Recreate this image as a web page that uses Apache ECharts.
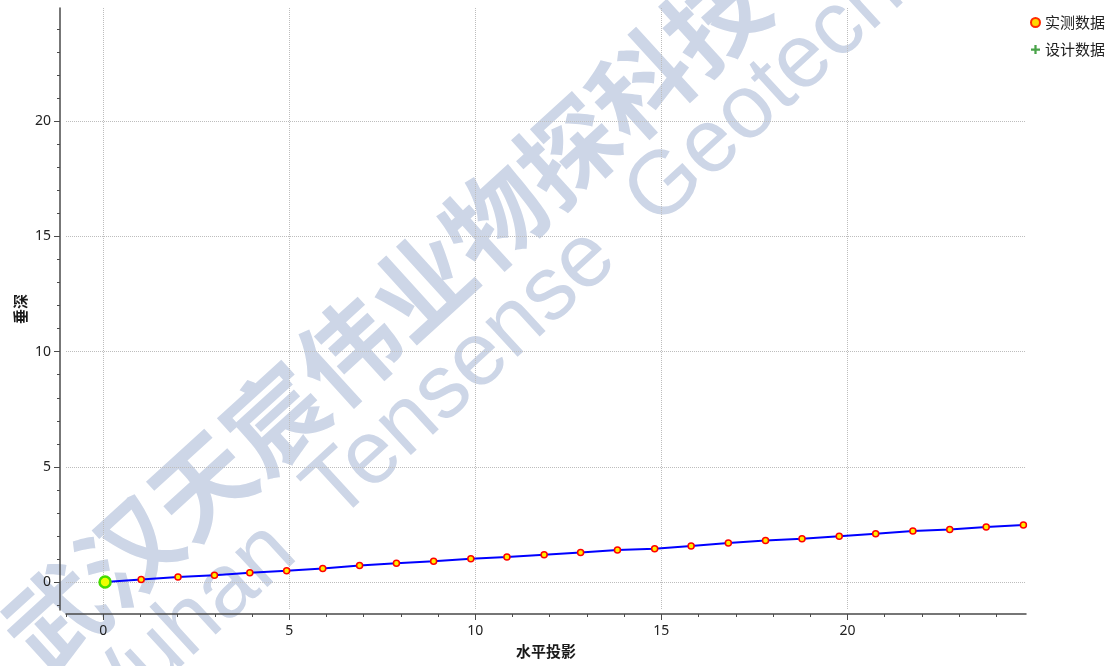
<!DOCTYPE html>
<html><head><meta charset="utf-8">
<script src="https://cdn.jsdelivr.net/npm/echarts@6/dist/echarts.min.js"></script>
<style>html,body{margin:0;padding:0;background:#fff}#c{width:1118px;height:666px}</style>
</head><body><div id="c"></div>
<script>
// ---- data ----
const measuredX = [1.02, 2.01, 2.99, 3.94, 4.93, 5.90, 6.89, 7.88, 8.88, 9.88, 10.85, 11.85, 12.83, 13.82, 14.82, 15.80, 16.80, 17.80, 18.78, 19.78, 20.76, 21.76, 22.75, 23.73, 24.73];
const measuredY = [0.12, 0.23, 0.31, 0.42, 0.50, 0.60, 0.73, 0.83, 0.91, 1.02, 1.10, 1.20, 1.29, 1.40, 1.46, 1.58, 1.70, 1.81, 1.89, 2.00, 2.11, 2.22, 2.29, 2.40, 2.48];
const startX = [0.05];
const startY = [0.01];
const designX = [];
const designY = [];
const xTickLabels = [0, 5, 10, 15, 20];
const yTickLabels = [0, 5, 10, 15, 20];
const xMinorTicks = [-1, 0, 1, 2, 3, 4, 5, 6, 7, 8, 9, 10, 11, 12, 13, 14, 15, 16, 17, 18, 19, 20, 21, 22, 23, 24];
const yMinorTicks = [-1, 0, 1, 2, 3, 4, 5, 6, 7, 8, 9, 10, 11, 12, 13, 14, 15, 16, 17, 18, 19, 20, 21, 22, 23, 24];
const seriesNames = ['实测数据', '设计数据'];
const axisNames = ['水平投影', '垂深'];
const watermarkCN = '武汉天宸伟业物探科技';
const watermarkEN = 'Wuhan  Tensense  Geotech';

const zip = (xs, ys) => xs.map((x, i) => [x, ys[i]]);
const measured = zip(measuredX, measuredY);
const start = zip(startX, startY);
const design = zip(designX, designY);
const path = start.concat(measured);

const axisColor = '#4a4a4a';
const labelFont = 'Noto Sans';
const cjk = 'Noto Sans CJK SC';
const deg = Math.PI / 180;
const xOff = 4, yOff = 6;

function mainAxis(min, max, labels, name, isX) {
  return {
    type: 'value', min: min, max: max,
    position: isX ? 'bottom' : 'left',
    offset: isX ? xOff : yOff,
    name: name, nameLocation: 'middle', nameGap: isX ? 30 : 32, nameMoveOverlap: false,
    nameTextStyle: { fontSize: 15, fontWeight: 'bold', color: '#1a1a1a', fontFamily: cjk },
    axisLine: { show: true, onZero: false, lineStyle: { color: axisColor, width: 1.5 } },
    axisTick: { show: true, length: 6, lineStyle: { color: axisColor, width: 1 } },
    axisLabel: {
      showMinLabel: false, showMaxLabel: false,
      margin: isX ? 10 : 9, fontSize: 14, color: '#222', fontFamily: labelFont,
      formatter: v => labels.indexOf(v) >= 0 ? String(v) : ''
    },
    splitLine: { show: true, showMinLine: false, showMaxLine: false,
      lineStyle: { type: 'dotted', color: '#bdbdbd', width: 1 } }
  };
}
function minorAxis(min, max, ticks, isX) {
  const a = {
    type: 'value', min: min, max: max,
    position: isX ? 'bottom' : 'left',
    offset: isX ? xOff : yOff,
    axisLine: { show: false, onZero: false },
    axisTick: { show: true, length: 3, customValues: ticks, lineStyle: { color: axisColor, width: 1 } },
    axisLabel: { show: false },
    splitLine: { show: false }
  };
  if (isX) a.interval = 1;
  return a;
}

const chart = echarts.init(document.getElementById('c'));
chart.setOption({
  backgroundColor: '#fff',
  animation: false,
  graphic: { elements: [
    { type: 'text', x: 385, y: 318, rotation: 42.3 * deg, z: -10, silent: true,
      style: { text: watermarkCN, fontSize: 99, fontWeight: 'bold', fontFamily: cjk,
        fill: '#cdd6e7', align: 'center', verticalAlign: 'middle', textAlign: 'center', textVerticalAlign: 'middle' } },
    { type: 'text', x: 74, y: 731, rotation: 42.6 * deg, z: -10, silent: true,
      style: { text: watermarkEN, fontSize: 90, fontFamily: 'Liberation Sans',
        fill: '#cdd6e7', align: 'left', verticalAlign: 'middle', textAlign: 'left', textVerticalAlign: 'middle' } }
  ] },
  grid: { left: 66, right: 92, top: 8, bottom: 56 },
  legend: {
    orient: 'vertical', right: 8, top: 10, itemGap: 12, itemWidth: 9, itemHeight: 9,
    textStyle: { fontSize: 15, color: '#222', fontFamily: cjk },
    data: [
      { name: seriesNames[0], icon: 'circle', itemStyle: { color: '#ffd800', borderColor: '#ff2a00', borderWidth: 2 } },
      { name: seriesNames[1], icon: 'path://M3,0H5V3H8V5H5V8H3V5H0V3H3Z', itemStyle: { color: '#1c8c1c', borderWidth: 0 } }
    ]
  },
  xAxis: [ mainAxis(-1, 24.8, xTickLabels, axisNames[0], true), minorAxis(-1, 24.8, xMinorTicks, true) ],
  yAxis: [ mainAxis(-1.2, 24.9, yTickLabels, axisNames[1], false), minorAxis(-1.2, 24.9, yMinorTicks, false) ],
  series: [
    { type: 'line', name: 'path', data: path, showSymbol: false, symbol: 'none',
      lineStyle: { color: '#0000ff', width: 2 }, z: 2 },
    { type: 'scatter', name: seriesNames[0], data: measured, symbol: 'circle', symbolSize: 6,
      itemStyle: { color: '#ffee00', borderColor: '#ff0000', borderWidth: 1.5, opacity: 1 }, z: 3 },
    { type: 'scatter', name: seriesNames[1], data: design, symbol: 'path://M3,0H5V3H8V5H5V8H3V5H0V3H3Z', symbolSize: 8,
      itemStyle: { color: '#1c8c1c' }, z: 3 },
    { type: 'scatter', name: 'start', data: start, symbol: 'circle', symbolSize: 11,
      itemStyle: { color: '#eeff00', borderColor: '#44dd00', borderWidth: 2.5, opacity: 1 }, z: 4 }
  ]
});
</script></body></html>
